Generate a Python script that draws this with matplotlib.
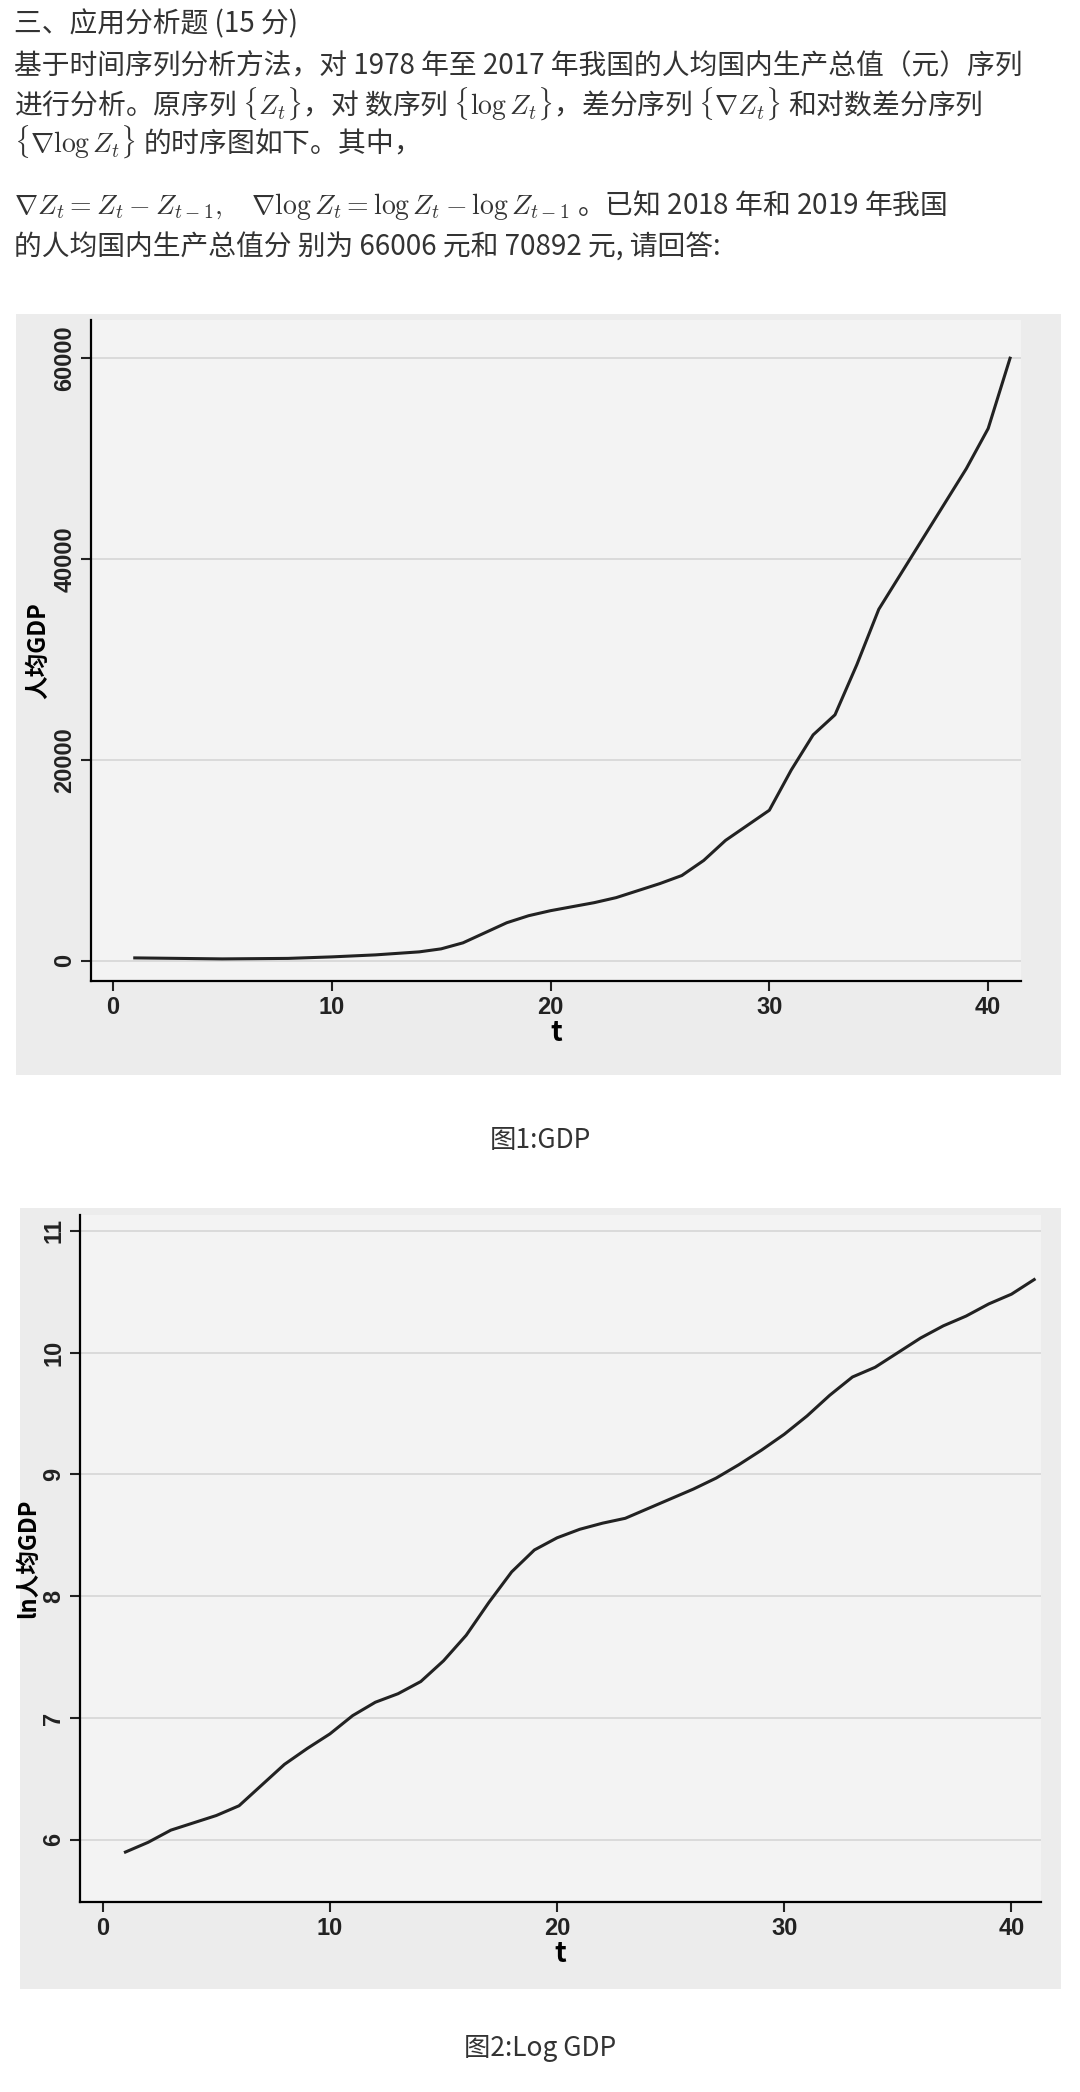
import matplotlib
matplotlib.use("Agg")
import matplotlib.pyplot as plt
import numpy as np

plt.rcParams['font.family'] = ['Noto Sans CJK SC', 'DejaVu Sans']
plt.rcParams['mathtext.fontset'] = 'cm'

t_gdp = [1, 3, 5, 8, 10, 12, 14, 15, 16, 17, 18, 19, 20, 21, 22, 23, 24, 25, 26, 27, 28, 29, 30, 31, 32, 33, 34, 35, 36, 37, 38, 39, 40, 41]
gdp = [300, 250, 200, 250, 400, 600, 900, 1200, 1800, 2800, 3800, 4500, 5000, 5400, 5800, 6300, 7000, 7700, 8500, 10000, 12000, 13500, 15000, 19000, 22500, 24500, 29500, 35000, 38500, 42000, 45500, 49000, 53000, 60000]
t_log = [1, 2, 3, 4, 5, 6, 7, 8, 9, 10, 11, 12, 13, 14, 15, 16, 17, 18, 19, 20, 21, 22, 23, 24, 25, 26, 27, 28, 29, 30, 31, 32, 33, 34, 35, 36, 37, 38, 39, 40, 41]
loggdp = [5.9, 5.98, 6.08, 6.14, 6.2, 6.28, 6.45, 6.62, 6.75, 6.87, 7.02, 7.13, 7.2, 7.3, 7.47, 7.68, 7.95, 8.2, 8.38, 8.48, 8.55, 8.6, 8.64, 8.72, 8.8, 8.88, 8.97, 9.08, 9.2, 9.33, 9.48, 9.65, 9.8, 9.88, 10.0, 10.12, 10.22, 10.3, 10.4, 10.48, 10.6]

W, H = 1080, 2092
fig = plt.figure(figsize=(W/100, H/100), dpi=100)
fig.patch.set_facecolor('white')

def px(x0, y0, x1, y1):
    return [x0/W, 1-y1/H, (x1-x0)/W, (y1-y0)/H]

lines = [
    (24, "三、应用分析题 (15 分)"),
    (66, r"基于时间序列分析方法，对 1978 年至 2017 年我国的人均国内生产总值（元）序列"),
    (104, r"进行分析。原序列 $\{Z_t\}$，对 数序列 $\{\log Z_t\}$，差分序列 $\{\nabla Z_t\}$ 和对数差分序列"),
    (142, r"$\{\nabla \log Z_t\}$ 的时序图如下。其中，"),
    (205, r"$\nabla Z_t = Z_t - Z_{t-1}, \quad \nabla \log Z_t = \log Z_t - \log Z_{t-1}$ 。已知 2018 年和 2019 年我国"),
    (248, r"的人均国内生产总值分 别为 66006 元和 70892 元, 请回答:"),
]
for y, s in lines:
    fig.text(14/W, 1-y/H, s, fontsize=20, color='#333333', va='center', ha='left')

for (x0, y0, x1, y1) in [(16, 314, 1061, 1075), (20, 1208, 1061, 1989)]:
    bg = fig.add_axes(px(x0, y0, x1, y1))
    bg.set_facecolor('#ececec'); bg.set_xticks([]); bg.set_yticks([])
    for s in bg.spines.values(): s.set_visible(False)

tickfont = dict(family=['Liberation Sans', 'DejaVu Sans'], size=17, weight='bold')

def style(ax):
    ax.set_facecolor('#f3f3f3')
    ax.spines['top'].set_visible(False); ax.spines['right'].set_visible(False)
    ax.spines['left'].set_linewidth(1.6); ax.spines['bottom'].set_linewidth(1.6)
    ax.tick_params(width=1.5, length=7, colors='#222222')
    ax.grid(axis='y', color='#d6d6d6', lw=1.2)
    for lab in ax.get_xticklabels():
        lab.set_fontproperties(matplotlib.font_manager.FontProperties(**tickfont))
    for lab in ax.get_yticklabels():
        lab.set_fontproperties(matplotlib.font_manager.FontProperties(**tickfont))
        lab.set_rotation(90); lab.set_va('center')

ax1 = fig.add_axes(px(91, 320, 1021, 981))
ax1.plot(t_gdp, gdp, color='#222222', lw=2.2)
ax1.set_xlim(-1.0, 41.5); ax1.set_ylim(-2000, 63800)
ax1.set_xticks([0, 10, 20, 30, 40]); ax1.set_yticks([0, 20000, 40000, 60000])
style(ax1)
ax1.set_xlabel('t', fontsize=20, fontweight='bold', labelpad=0)
ax1.set_ylabel('人均GDP', fontsize=17, fontweight='bold', labelpad=2)

ax2 = fig.add_axes(px(80, 1215, 1041, 1902))
ax2.plot(t_log, loggdp, color='#222222', lw=2.2)
ax2.set_xlim(-1.0, 41.3); ax2.set_ylim(5.49, 11.13)
ax2.set_xticks([0, 10, 20, 30, 40]); ax2.set_yticks([6, 7, 8, 9, 10, 11])
style(ax2)
ax2.set_xlabel('t', fontsize=20, fontweight='bold', labelpad=0)
ax2.set_ylabel('ln人均GDP', fontsize=17, fontweight='bold', labelpad=2)

fig.text(0.5, 1-1141/H, '图1:GDP', ha='center', va='center', fontsize=19, color='#333333')
fig.text(0.5, 1-2049/H, '图2:Log GDP', ha='center', va='center', fontsize=19, color='#333333')

fig.savefig('out.png', dpi=100)
